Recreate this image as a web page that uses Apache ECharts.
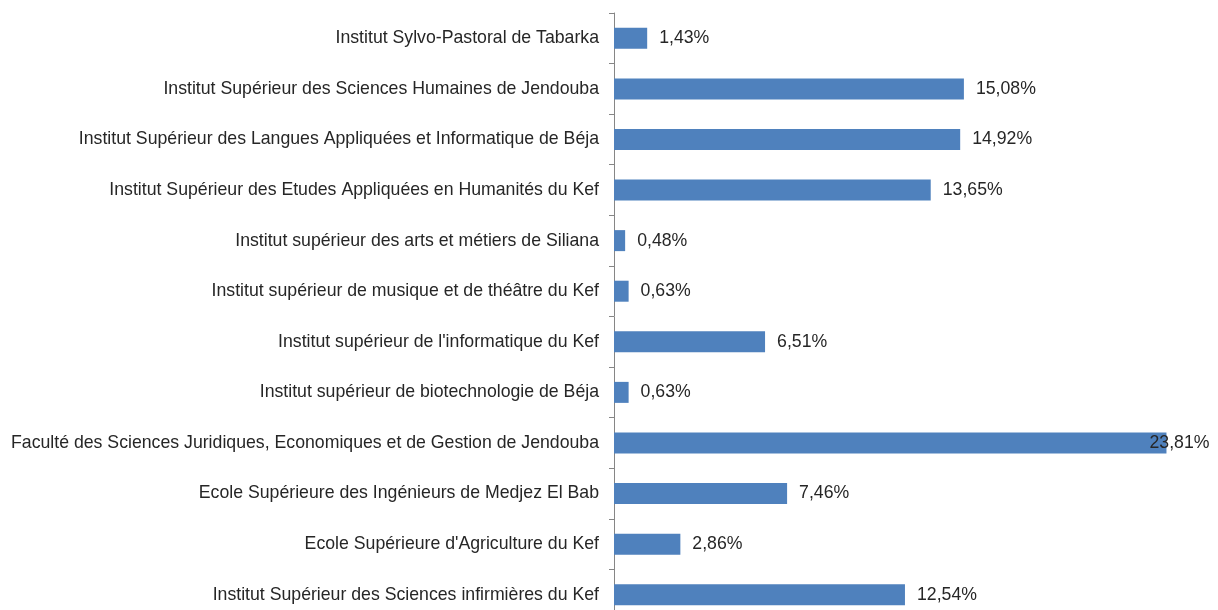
<!DOCTYPE html>
<html>
<head>
<meta charset="utf-8">
<script src="https://cdn.jsdelivr.net/npm/echarts@6/dist/echarts.min.js"></script>
<style>
  html, body { margin: 0; padding: 0; background: #fff; overflow: hidden; }
  /* le graphique d'origine est coupé en bas : on le dessine plus haut que la fenêtre */
  #chart { width: 1218px; height: 630px; }
</style>
</head>
<body>
<div id="chart"></div>
<script>
// établissements, de haut en bas
const categories = [
  'Institut Sylvo-Pastoral de Tabarka',
  'Institut Supérieur des Sciences Humaines de Jendouba',
  'Institut Supérieur des Langues Appliquées et Informatique de Béja',
  'Institut Supérieur des Etudes Appliquées en Humanités du Kef',
  'Institut supérieur des arts et métiers de Siliana',
  'Institut supérieur de musique et de théâtre du Kef',
  "Institut supérieur de l'informatique du Kef",
  'Institut supérieur de biotechnologie de Béja',
  'Faculté des Sciences Juridiques, Economiques et de Gestion de Jendouba',
  'Ecole Supérieure des Ingénieurs de Medjez El Bab',
  "Ecole Supérieure d'Agriculture du Kef",
  'Institut Supérieur des Sciences infirmières du Kef'
]
const shares = [1.43, 15.08, 14.92, 13.65, 0.48, 0.63, 6.51, 0.63, 23.81, 7.46, 2.86, 12.54]

const FONT = '"Liberation Sans", Arial, sans-serif'
const fmt = (v) => v.toFixed(2).replace('.', ',') + '%'
const maxShare = Math.max(...shares)

const chart = echarts.init(document.getElementById('chart'), null, { renderer: 'canvas' })
chart.setOption({
  animation: false,
  grid: { left: 614, top: 13, width: 594, height: 607 },
  xAxis: {
    type: 'value',
    min: 0,
    max: 25.6,
    show: false
  },
  yAxis: {
    type: 'category',
    data: categories,
    inverse: true,
    axisLine: { lineStyle: { color: '#868686', width: 1 } },
    axisTick: { show: true, length: 5, lineStyle: { color: '#868686' } },
    axisLabel: {
      color: '#262626',
      fontFamily: FONT,
      fontSize: 17.7,
      margin: 15
    }
  },
  series: [{
    type: 'bar',
    barWidth: 21,
    itemStyle: { color: '#4F81BD' },
    label: {
      show: true,
      position: 'right',
      distance: 12,
      color: '#262626',
      fontFamily: FONT,
      fontSize: 17.7,
      formatter: (p) => fmt(p.value)
    },
    // la plus longue barre : étiquette ramenée dans la zone de tracé
    data: shares.map((v) => v === maxShare ? { value: v, label: { distance: -17 } } : v)
  }]
})
</script>
</body>
</html>
